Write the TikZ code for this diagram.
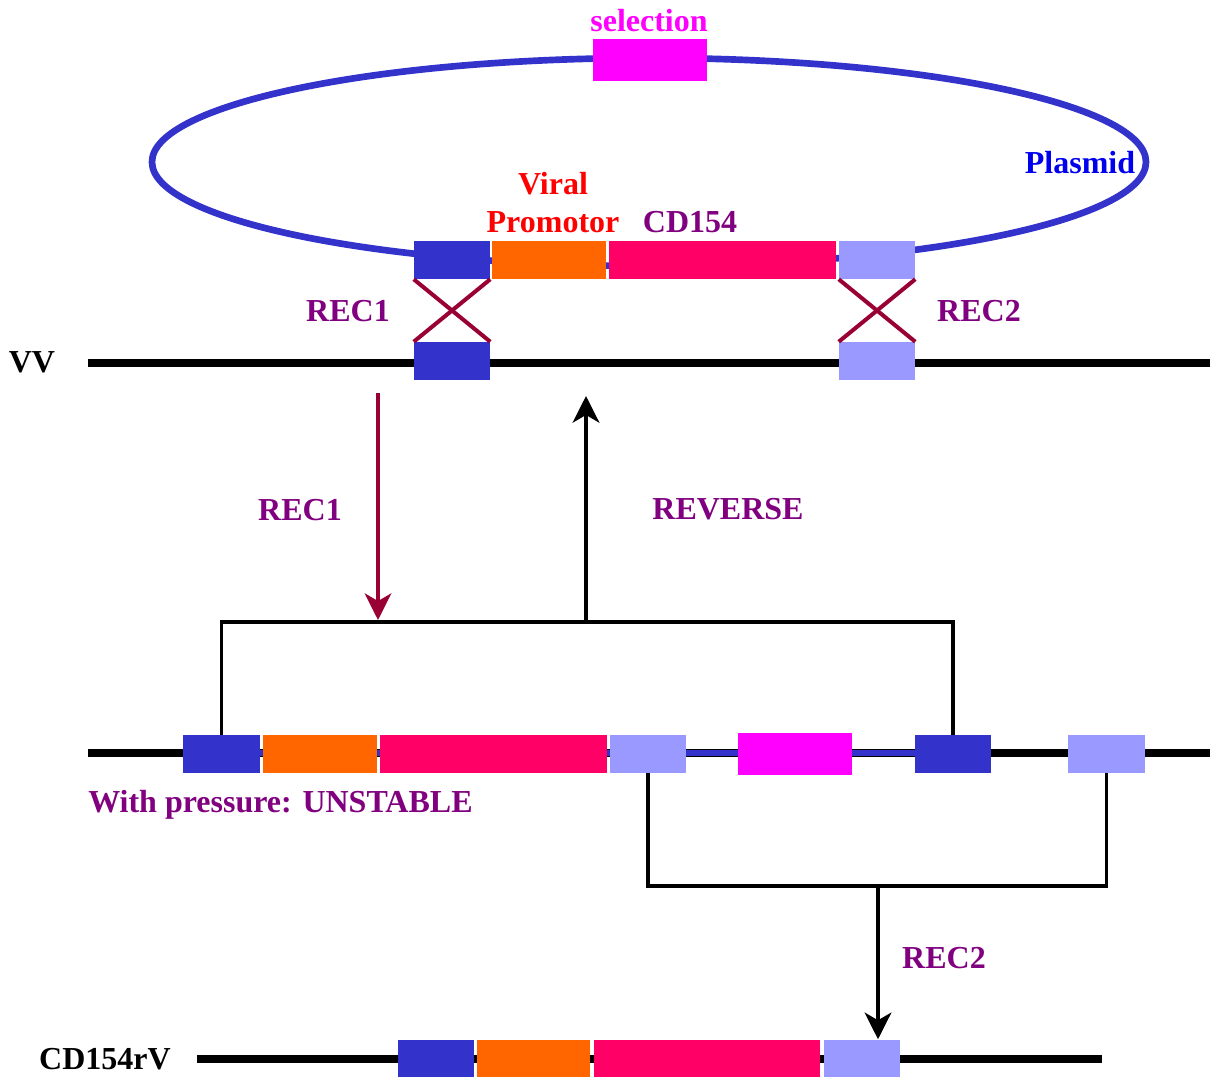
\documentclass[tikz,border=0pt]{standalone}
\usepackage{fontspec}
\setmainfont{Liberation Serif}
\usepackage{xcolor}
\usetikzlibrary{arrows.meta,positioning}

\definecolor{cdark}{HTML}{3333CC}
\definecolor{clight}{HTML}{9999FF}
\definecolor{corange}{HTML}{FF6600}
\definecolor{cpink}{HTML}{FF0066}
\definecolor{cmagenta}{HTML}{FF00FF}
\definecolor{ccross}{HTML}{990033}
\definecolor{cpurple}{HTML}{800080}
\definecolor{cblue}{HTML}{0000EE}

\begin{document}
\begin{tikzpicture}[
    x=0.75pt,
    y=-0.75pt,
    font=\bfseries\fontsize{24}{28.5}\selectfont,
    gene/.style={
        rectangle,
        fill=#1,
        inner sep=0pt,
        minimum height=28.5pt
    },
    label/.style={
        text=#1,
        inner sep=0pt,
        align=center
    },
    dna/.style={line width=5.5pt, draw=black},
    plasmid/.style={line width=5pt, draw=cdark},
    cross/.style={line width=3pt, draw=ccross},
    bracket/.style={line width=2.8pt, draw=black},
    recarrow/.style={-{Stealth[length=7mm,width=7mm,inset=2mm]}, line width=3.2pt}
]
\useasboundingbox (0,0) rectangle (1213,1077);

% plasmid
\draw[plasmid] (649,162) ellipse [x radius=497, y radius=104];
\node[gene=cmagenta, minimum width=85.5pt, minimum height=31.5pt] (sel) at (650,60) {};
\node[label=cmagenta] (lsel) at (649,21) {selection};
\node[label=cblue] (lplas) at (1080,163) {Plasmid};

\foreach \n/\c/\x/\w in {pA/cdark/452/76, pB/corange/549/114, pC/cpink/722.5/227, pD/clight/877/76}
    \node[gene=\c, minimum width=\w*0.75pt] (\n) at (\x,260) {};

\node[label=red] (lprom) at (553,203) {Viral\\Promotor};
\node[label=cpurple] (lcd) at (690,222) {CD154};

% VV
\coordinate (vvL) at (88,363);
\coordinate (vvR) at (1210,363);
\draw[dna] (vvL) -- (vvR);
\node[label=black] (lvv) at (32,362) {VV};
\node[gene=cdark, minimum width=57pt] (vA) at (452,361) {};
\node[gene=clight, minimum width=57pt] (vD) at (877,361) {};

\draw[cross] (pA.south west) -- (vA.north east);
\draw[cross] (pA.south east) -- (vA.north west);
\draw[cross] (pD.south west) -- (vD.north east);
\draw[cross] (pD.south east) -- (vD.north west);
\node[label=cpurple] (lrecA) at (348,311) {REC1};
\node[label=cpurple] (lrecB) at (979,311) {REC2};

% integration and reverse
\coordinate (downS) at (378,393);
\coordinate (downE) at (378,620);
\coordinate (top) at (586,622);
\coordinate (upE) at (586,396);
\draw[recarrow, draw=ccross, fill=ccross, line width=2.8pt] (downS) -- (downE);
\draw[recarrow, draw=black, fill=black] (top) -- (upE);
\node[label=cpurple] (lrecC) at (300,510) {REC1};
\node[label=cpurple] (lrev) at (728,509) {REVERSE};

% intermediate
\coordinate (midL) at (88,753);
\coordinate (midR) at (1210,753);
\draw[dna] (midL) -- (midR);
\draw[line width=5pt, draw=cdark] (260,753) -- (915,753);
\foreach \n/\c/\x/\w in {mA/cdark/221.5/77, mB/corange/320/114, mC/cpink/493.5/227, mD/clight/648/76, mF/cdark/953/76, mG/clight/1106.5/77}
    \node[gene=\c, minimum width=\w*0.75pt] (\n) at (\x,754) {};
\node[gene=cmagenta, minimum width=85.5pt, minimum height=31.5pt] (mE) at (795,754) {};
\node[label=cpurple, anchor=west] (lunst) at (88,805) {With pressure: UNSTABLE};

\draw[bracket] (mA.north) |- (top) -| (mF.north);

\coordinate (bot) at (878,886);
\draw[bracket] (mD.south) |- (bot) -| (mG.south);

% final
\coordinate (finL) at (197,1059);
\coordinate (finR) at (1102,1059);
\draw[dna] (finL) -- (finR);
\foreach \n/\c/\x/\w in {fA/cdark/435.5/76, fB/corange/533.5/113, fC/cpink/707/226, fD/clight/862/76}
    \node[gene=\c, minimum width=\w*0.75pt] (\n) at (\x,1058.5) {};
\node[label=black] (lfin) at (105,1059) {CD154rV};

\draw[recarrow, draw=black, fill=black] (bot) -- (bot |- fD.north);
\node[label=cpurple] (lrecD) at (944,958) {REC2};

\end{tikzpicture}
\end{document}
